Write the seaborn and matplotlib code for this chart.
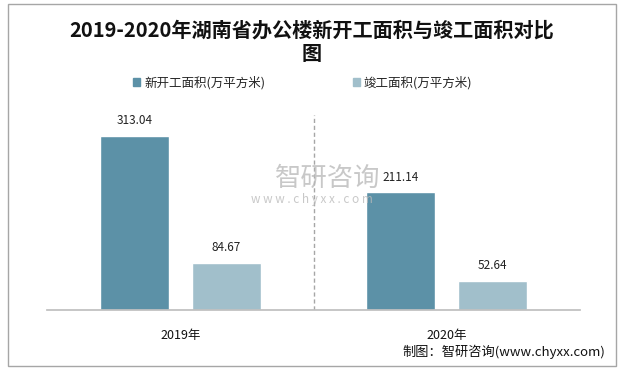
import matplotlib
matplotlib.use("Agg")
import matplotlib.pyplot as plt
import seaborn as sns
import pandas as pd
from matplotlib.patches import Rectangle

years = ["2019年", "2020年"]
series = ["新开工面积(万平方米)", "竣工面积(万平方米)"]
new_area = [313.04, 211.14]
done_area = [84.67, 52.64]
colors = ["#5C91A7", "#A1BFCB"]

df = pd.DataFrame({
    "year": years * 2,
    "series": [series[0]] * 2 + [series[1]] * 2,
    "value": new_area + done_area,
})

sns.set_theme(style="white")
plt.rcParams["font.family"] = ["Noto Sans CJK SC", "DejaVu Sans"]

fig = plt.figure(figsize=(6.24, 3.71), dpi=100)
ax = fig.add_axes([47 / 624, 1 - 310 / 371, 533 / 624, 195 / 371])

sns.barplot(data=df, x="year", y="value", hue="series", palette=colors,
            width=0.69, gap=0.25, saturation=1, ax=ax, legend=False)

for cont in ax.containers:
    ax.bar_label(cont, fmt="%.2f", padding=6, fontsize=8.5, color="#222222")

ax.set_xlim(-0.5, 1.5)
ax.set_ylim(0, 350)
ax.set_yticks([])
ax.set_xlabel("")
ax.set_ylabel("")
for s in ["top", "left", "right"]:
    ax.spines[s].set_visible(False)
ax.spines["bottom"].set_color("#BFBFBF")
ax.tick_params(axis="x", length=0, pad=14, labelsize=9, labelcolor="#111111")
ax.axvline(0.5, color="#A6A6A6", lw=1, ls=(0, (3, 2)))

# legend
handles = [Rectangle((0, 0), 1, 1, color=c) for c in colors]
fig.legend(handles, series, loc="center", bbox_to_anchor=(0.485, 1 - 83 / 371),
           ncol=2, frameon=False, fontsize=9, handlelength=0.6, handleheight=0.6,
           columnspacing=7, handletextpad=0.3)

fig.text(0.5, 1 - 30 / 371, "2019-2020年湖南省办公楼新开工面积与竣工面积对比",
         ha="center", va="center", fontsize=14.5, fontweight="bold", color="#111111")
fig.text(0.5, 1 - 53 / 371, "图", ha="center", va="center", fontsize=14.5,
         fontweight="bold", color="#111111")

# watermark
fig.text(328 / 624, 1 - 178 / 371, "智研咨询", ha="center", va="center", fontsize=19,
         color="#BBBBBB", alpha=0.8)
fig.text(312 / 624, 1 - 199 / 371, "w w w . c h y x x . c o m", ha="center", va="center",
         fontsize=8.5, color="#BBBBBB", alpha=0.8)

fig.text(605 / 624, 1 - 352 / 371, "制图：智研咨询(www.chyxx.com)", ha="right",
         va="center", fontsize=9.5, color="#111111")

fig.add_artist(Rectangle((8 / 624, 1 - 366 / 371), 608 / 624, 362 / 371,
                         transform=fig.transFigure, fill=False, ec="#A6A6A6", lw=1))

fig.savefig("out.png", dpi=100)
